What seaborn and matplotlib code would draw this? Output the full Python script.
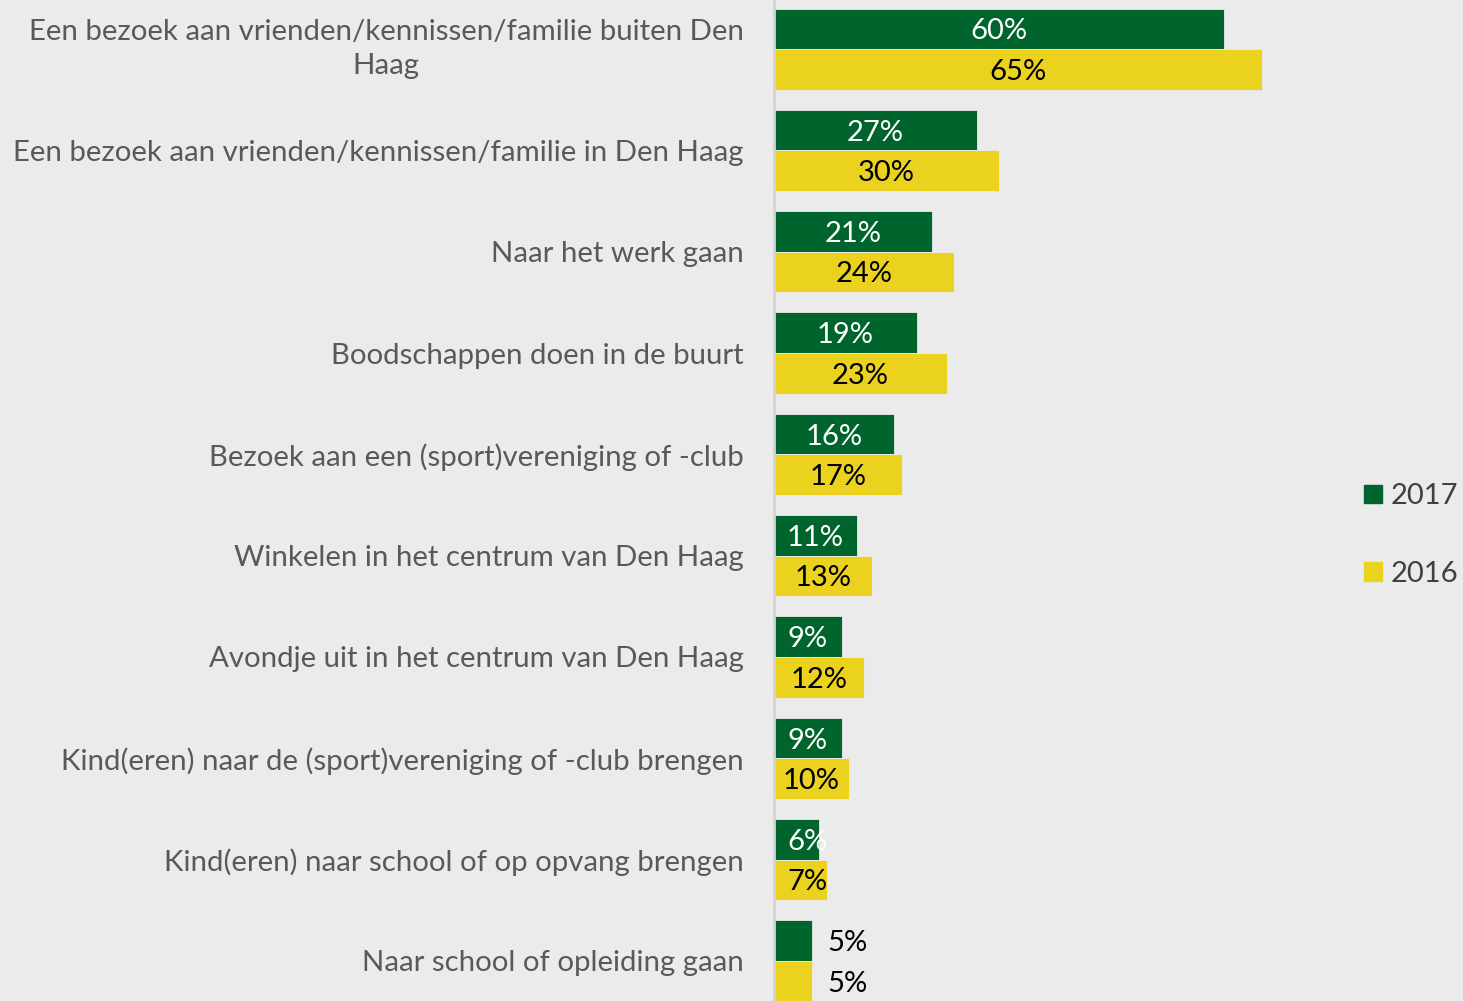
import pandas as pd
import matplotlib.pyplot as plt
import seaborn as sns

# data
categories = [
    "Een bezoek aan vrienden/kennissen/familie buiten Den\nHaag",
    "Een bezoek aan vrienden/kennissen/familie in Den Haag",
    "Naar het werk gaan",
    "Boodschappen doen in de buurt",
    "Bezoek aan een (sport)vereniging of -club",
    "Winkelen in het centrum van Den Haag",
    "Avondje uit in het centrum van Den Haag",
    "Kind(eren) naar de (sport)vereniging of -club brengen",
    "Kind(eren) naar school of op opvang brengen",
    "Naar school of opleiding gaan",
]
years = ["2017", "2016"]
v2017 = [60, 27, 21, 19, 16, 11, 9, 9, 6, 5]
v2016 = [65, 30, 24, 23, 17, 13, 12, 10, 7, 5]

df = pd.DataFrame({
    "cat": categories * 2,
    "year": [years[0]] * len(categories) + [years[1]] * len(categories),
    "value": v2017 + v2016,
})

colors = {"2017": "#00642d", "2016": "#ebd21e"}
bg = "#ebebeb"

sns.set_style("white")
plt.rcParams['font.family'] = ['Lato', 'DejaVu Sans']

fig = plt.figure(figsize=(14.63, 10.01), dpi=100, facecolor=bg)
ax = fig.add_axes([774 / 1463, 0, (1350 - 774) / 1463, 1])
ax.set_facecolor(bg)

sns.barplot(data=df, y="cat", x="value", hue="year", hue_order=years,
            palette=colors, saturation=1, orient="h", width=0.8, ax=ax,
            legend=False, edgecolor=bg, linewidth=0.6)

ax.set_xlim(0, 76.8)
ax.set_ylim(9.395, -0.484)
ax.set_xlabel("")
ax.set_ylabel("")
ax.set_xticks([])
ax.tick_params(axis="y", length=0, pad=22, labelsize=21.2, labelcolor="#595959")
for lab in ax.get_yticklabels():
    lab.set_multialignment("center")
    if "\n" in lab.get_text():
        lab.set_va("center")
        lab.set_linespacing(1.4)

for s in ["top", "right", "bottom"]:
    ax.spines[s].set_visible(False)
ax.spines["left"].set_color("#d4d4d4")
ax.spines["left"].set_linewidth(2)

# value labels
for container, vals, tcol in zip(ax.containers, [v2017, v2016], ["white", "black"]):
    for p, v in zip(container.patches, vals):
        yc = p.get_y() + p.get_height() / 2
        if v <= 5:
            ax.text(v + 2.1, yc, f"{v}%", ha="left", va="center_baseline",
                    fontsize=21, color="black")
        else:
            ax.text(max(v / 2, 4.5), yc, f"{v}%", ha="center",
                    va="center_baseline", fontsize=21, color=tcol)

handles = [plt.Rectangle((0, 0), 1, 1, color=colors[y]) for y in years]
fig.legend(handles, years, loc="center left",
           bbox_to_anchor=(1364 / 1463, 1 - 535 / 1001), frameon=False,
           borderpad=0, borderaxespad=0,
           handlelength=0.6, handleheight=0.6, handletextpad=0.3,
           labelspacing=1.75, fontsize=21, labelcolor="#404040")

fig.savefig("out.png", dpi=100, facecolor=bg)
